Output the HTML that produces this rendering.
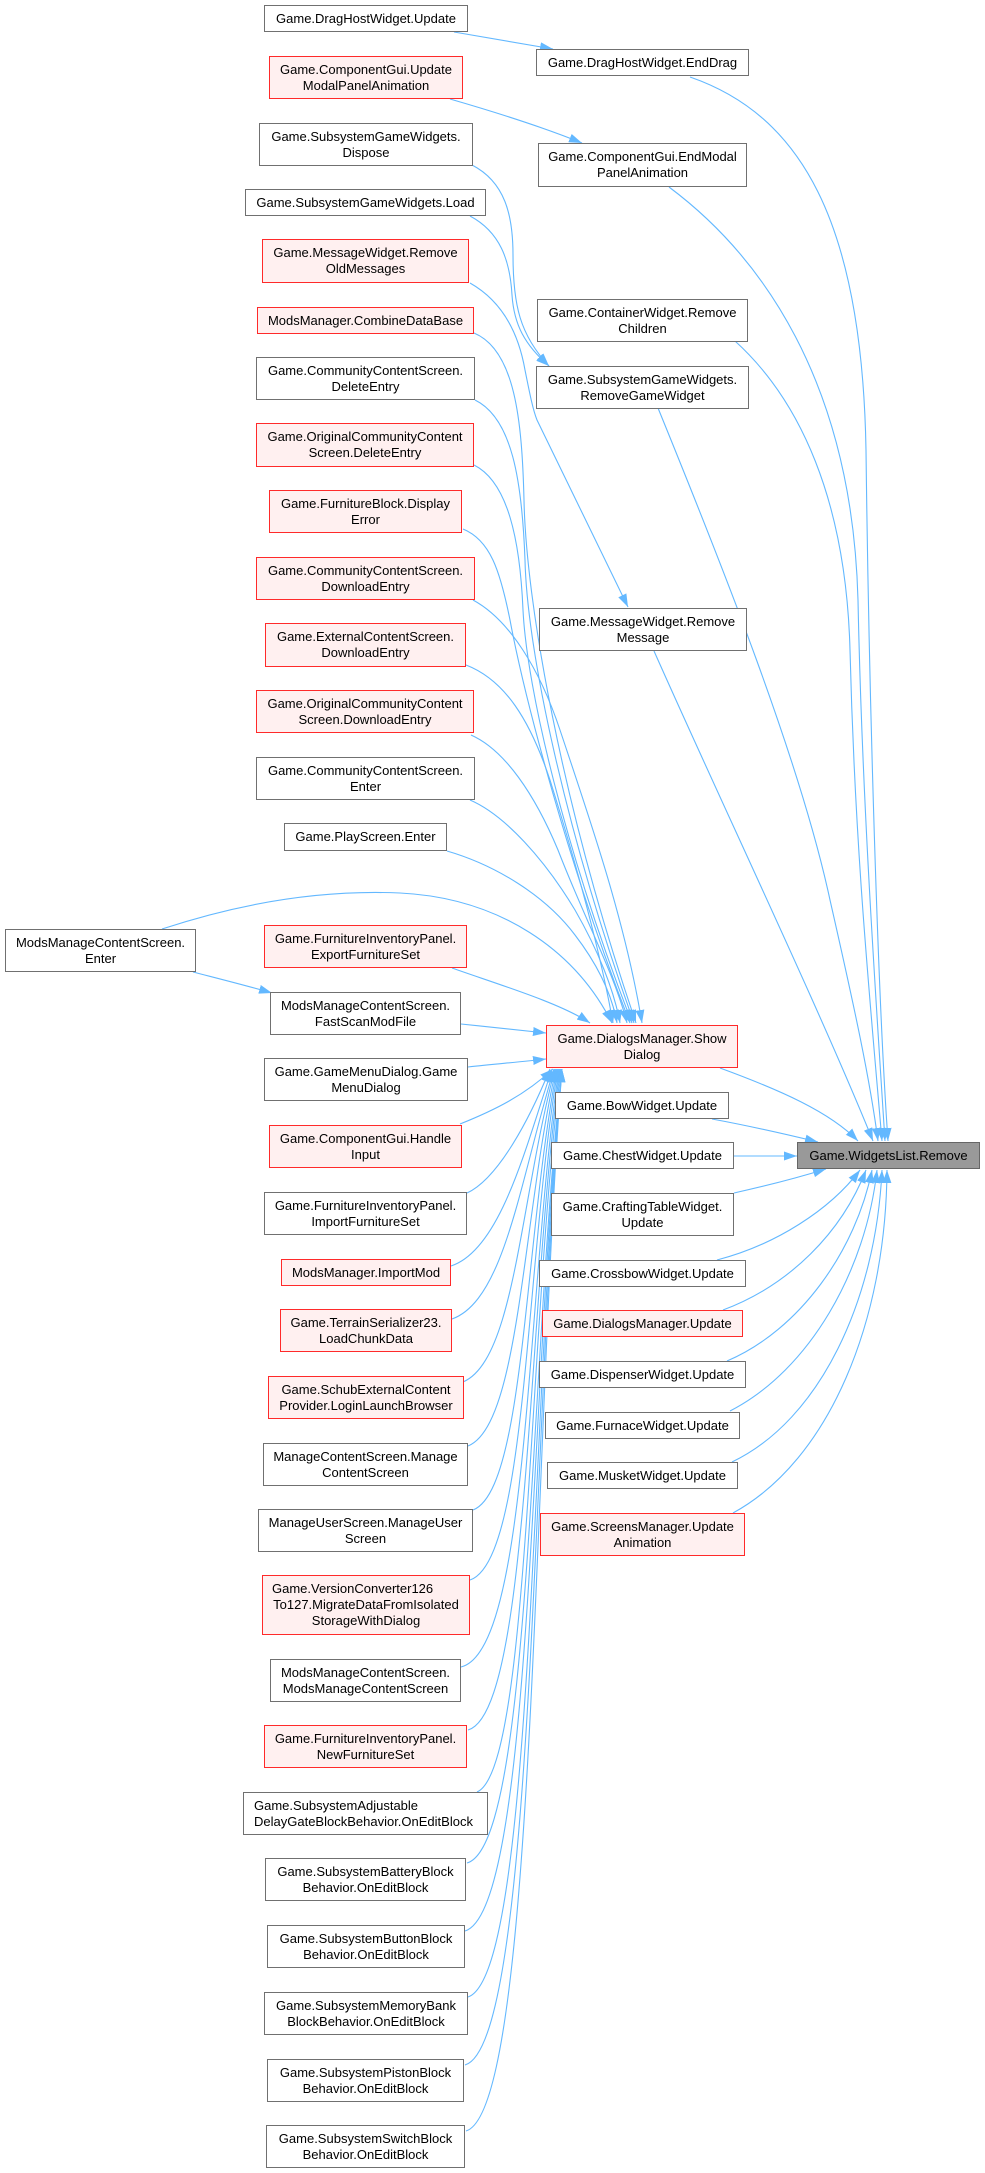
<!DOCTYPE html>
<html>
<head>
<meta charset="utf-8">
<style>
html,body{margin:0;padding:0;background:#fff;}
body{width:985px;height:2173px;position:relative;overflow:hidden;}
svg{position:absolute;left:0;top:0;}
.n{position:absolute;box-sizing:border-box;border:1px solid #707070;background:#fff;display:flex;flex-direction:column;justify-content:center;align-items:center;font:13px/16px "Liberation Sans",Arial,sans-serif;color:#000;white-space:nowrap;}
.r{border-color:#ff2a2a;background:#fff0f0;}
.m{background:#999;border-color:#666;}
.l{align-items:flex-start;padding-left:10px;}
.s{align-items:stretch;}
.s div{text-align:center;}
.s div.la{text-align:left;padding-left:9px;}
</style>
</head>
<body>
<svg width="985" height="2173" viewBox="0 0 985 2173" xmlns="http://www.w3.org/2000/svg">
<defs>
<marker id="a" markerWidth="13" markerHeight="9" refX="13" refY="4.5" orient="auto" markerUnits="userSpaceOnUse">
<path d="M0,0 L13,4.5 L0,9 z" fill="#63b8ff"/>
</marker>
</defs>
<g fill="none" stroke="#63b8ff" stroke-width="1.1" marker-end="url(#a)">
<!-- small local edges -->
<path d="M454,32 C490,38 525,44 553,49"/>
<path d="M450,99 C495,112 545,128 582,143"/>
<path d="M472,165 C505,182 513,215 513,255 C513,305 520,335 549,366"/>
<path d="M470,216 C500,232 510,260 512,295 C514,325 525,345 549,366"/>
<path d="M470,283 C500,300 518,330 525,370 C530,395 533,410 537,420 L628,607"/>
<path d="M193,972 C220,979 248,986 272,993"/>
<!-- into ShowDialog from above -->
<path d="M474,333 C515,350 522,420 524,500 C526,600 560,800 636,1023"/>
<path d="M475,400 C512,418 522,480 525,560 C527,650 565,830 634,1023"/>
<path d="M474,465 C508,482 520,540 523,610 C527,690 565,850 632,1023"/>
<path d="M463,529 C490,540 500,570 510,620 C525,700 570,870 630,1023"/>
<path d="M473,600 C510,620 540,670 560,730 C590,820 625,920 642,1023"/>
<path d="M466,665 C505,680 530,720 550,780 C575,860 600,950 613,1023"/>
<path d="M471,735 C505,750 535,795 558,850 C585,920 615,975 627,1023"/>
<path d="M470,800 C505,815 545,860 575,910 C598,950 614,990 620,1023"/>
<path d="M447,851 C495,865 545,895 575,935 C598,965 612,995 617,1023"/>
<path d="M162,929 C250,900 330,890 400,893 C500,898 575,950 612,1023"/>
<path d="M452,968 C500,985 560,1003 590,1023"/>
<path d="M461,1024 C490,1027 520,1030 546,1033"/>
<path d="M468,1067 C495,1064 520,1062 546,1059"/>
<path d="M460,1124 C495,1110 525,1095 553,1069"/>
<!-- into ShowDialog from below -->
<path d="M467,1193 C495,1180 525,1130 550,1069"/>
<path d="M451,1266 C500,1250 525,1150 552,1069"/>
<path d="M452,1319 C505,1300 520,1180 554,1069"/>
<path d="M463,1382 C515,1360 520,1200 555,1069"/>
<path d="M468,1446 C520,1425 522,1220 556,1069"/>
<path d="M473,1510 C525,1490 524,1240 557,1069"/>
<path d="M470,1580 C528,1560 525,1260 558,1069"/>
<path d="M461,1667 C530,1650 526,1290 559,1069"/>
<path d="M468,1730 C530,1712 527,1310 560,1069"/>
<path d="M477,1792 C530,1770 528,1330 561,1069"/>
<path d="M467,1863 C532,1845 529,1360 562,1069"/>
<path d="M465,1931 C533,1910 530,1380 562,1069"/>
<path d="M468,1997 C534,1975 531,1400 562,1069"/>
<path d="M465,2065 C535,2045 532,1420 562,1069"/>
<path d="M466,2131 C536,2110 533,1440 562,1069"/>
<!-- into WidgetsList.Remove -->
<path d="M690,77 C800,115 862,220 866,450 C869,700 878,1000 888,1141"/>
<path d="M669,187 C760,255 852,380 858,600 C862,800 876,1000 885,1141"/>
<path d="M735,341 C800,400 846,500 850,650 C855,850 870,1000 882,1141"/>
<path d="M658,408 C720,560 800,760 830,900 C855,1010 870,1080 878,1141"/>
<path d="M654,651 C720,800 820,1010 873,1141"/>
<path d="M720,1068 C780,1090 830,1112 858,1141"/>
<path d="M712,1119 C750,1126 785,1134 818,1142"/>
<path d="M734,1156 L797,1156"/>
<path d="M734,1193 C770,1185 800,1177 826,1169"/>
<path d="M717,1260 C775,1245 830,1210 860,1170"/>
<path d="M723,1310 C790,1285 842,1232 866,1170"/>
<path d="M727,1361 C800,1330 856,1250 872,1170"/>
<path d="M730,1411 C810,1370 866,1270 877,1170"/>
<path d="M732,1462 C820,1420 876,1300 882,1170"/>
<path d="M733,1513 C830,1460 886,1320 887,1170"/>
</g>
</svg>

<!-- left column -->
<div class="n" style="left:264px;top:5px;width:204px;height:27px;">Game.DragHostWidget.Update</div>
<div class="n r" style="left:269px;top:56px;width:194px;height:43px;"><div>Game.ComponentGui.Update</div><div>ModalPanelAnimation</div></div>
<div class="n" style="left:259px;top:123px;width:214px;height:43px;"><div>Game.SubsystemGameWidgets.</div><div>Dispose</div></div>
<div class="n" style="left:245px;top:189px;width:241px;height:27px;">Game.SubsystemGameWidgets.Load</div>
<div class="n r" style="left:262px;top:239px;width:207px;height:44px;"><div>Game.MessageWidget.Remove</div><div>OldMessages</div></div>
<div class="n r" style="left:257px;top:307px;width:217px;height:27px;">ModsManager.CombineDataBase</div>
<div class="n" style="left:256px;top:357px;width:219px;height:43px;"><div>Game.CommunityContentScreen.</div><div>DeleteEntry</div></div>
<div class="n r" style="left:256px;top:423px;width:218px;height:44px;"><div>Game.OriginalCommunityContent</div><div>Screen.DeleteEntry</div></div>
<div class="n r" style="left:269px;top:490px;width:193px;height:43px;"><div>Game.FurnitureBlock.Display</div><div>Error</div></div>
<div class="n r" style="left:256px;top:557px;width:219px;height:43px;"><div>Game.CommunityContentScreen.</div><div>DownloadEntry</div></div>
<div class="n r" style="left:265px;top:623px;width:201px;height:44px;"><div>Game.ExternalContentScreen.</div><div>DownloadEntry</div></div>
<div class="n r" style="left:256px;top:690px;width:218px;height:43px;"><div>Game.OriginalCommunityContent</div><div>Screen.DownloadEntry</div></div>
<div class="n" style="left:256px;top:757px;width:219px;height:43px;"><div>Game.CommunityContentScreen.</div><div>Enter</div></div>
<div class="n" style="left:284px;top:823px;width:163px;height:28px;">Game.PlayScreen.Enter</div>
<div class="n" style="left:5px;top:929px;width:191px;height:43px;"><div>ModsManageContentScreen.</div><div>Enter</div></div>
<div class="n r" style="left:264px;top:925px;width:203px;height:43px;"><div>Game.FurnitureInventoryPanel.</div><div>ExportFurnitureSet</div></div>
<div class="n" style="left:270px;top:992px;width:191px;height:43px;"><div>ModsManageContentScreen.</div><div>FastScanModFile</div></div>
<div class="n" style="left:264px;top:1058px;width:204px;height:43px;"><div>Game.GameMenuDialog.Game</div><div>MenuDialog</div></div>
<div class="n r" style="left:269px;top:1125px;width:193px;height:43px;"><div>Game.ComponentGui.Handle</div><div>Input</div></div>
<div class="n" style="left:264px;top:1192px;width:203px;height:43px;"><div>Game.FurnitureInventoryPanel.</div><div>ImportFurnitureSet</div></div>
<div class="n r" style="left:281px;top:1259px;width:170px;height:27px;">ModsManager.ImportMod</div>
<div class="n r" style="left:280px;top:1309px;width:172px;height:43px;"><div>Game.TerrainSerializer23.</div><div>LoadChunkData</div></div>
<div class="n r" style="left:268px;top:1376px;width:196px;height:43px;"><div>Game.SchubExternalContent</div><div>Provider.LoginLaunchBrowser</div></div>
<div class="n" style="left:263px;top:1443px;width:205px;height:43px;"><div>ManageContentScreen.Manage</div><div>ContentScreen</div></div>
<div class="n" style="left:258px;top:1509px;width:215px;height:43px;"><div>ManageUserScreen.ManageUser</div><div>Screen</div></div>
<div class="n r s" style="left:262px;top:1575px;width:208px;height:60px;"><div class="la">Game.VersionConverter126</div><div>To127.MigrateDataFromIsolated</div><div>StorageWithDialog</div></div>
<div class="n" style="left:270px;top:1659px;width:191px;height:43px;"><div>ModsManageContentScreen.</div><div>ModsManageContentScreen</div></div>
<div class="n r" style="left:264px;top:1725px;width:203px;height:43px;"><div>Game.FurnitureInventoryPanel.</div><div>NewFurnitureSet</div></div>
<div class="n l" style="left:243px;top:1792px;width:245px;height:43px;"><div>Game.SubsystemAdjustable</div><div>DelayGateBlockBehavior.OnEditBlock</div></div>
<div class="n" style="left:265px;top:1858px;width:201px;height:43px;"><div>Game.SubsystemBatteryBlock</div><div>Behavior.OnEditBlock</div></div>
<div class="n" style="left:267px;top:1925px;width:198px;height:43px;"><div>Game.SubsystemButtonBlock</div><div>Behavior.OnEditBlock</div></div>
<div class="n" style="left:264px;top:1992px;width:204px;height:43px;"><div>Game.SubsystemMemoryBank</div><div>BlockBehavior.OnEditBlock</div></div>
<div class="n" style="left:267px;top:2059px;width:197px;height:43px;"><div>Game.SubsystemPistonBlock</div><div>Behavior.OnEditBlock</div></div>
<div class="n" style="left:266px;top:2125px;width:199px;height:43px;"><div>Game.SubsystemSwitchBlock</div><div>Behavior.OnEditBlock</div></div>

<!-- middle column -->
<div class="n" style="left:536px;top:49px;width:213px;height:27px;">Game.DragHostWidget.EndDrag</div>
<div class="n" style="left:538px;top:143px;width:209px;height:44px;"><div>Game.ComponentGui.EndModal</div><div>PanelAnimation</div></div>
<div class="n" style="left:537px;top:299px;width:211px;height:43px;"><div>Game.ContainerWidget.Remove</div><div>Children</div></div>
<div class="n" style="left:536px;top:366px;width:213px;height:43px;"><div>Game.SubsystemGameWidgets.</div><div>RemoveGameWidget</div></div>
<div class="n" style="left:539px;top:608px;width:208px;height:43px;"><div>Game.MessageWidget.Remove</div><div>Message</div></div>
<div class="n r" style="left:546px;top:1025px;width:192px;height:43px;"><div>Game.DialogsManager.Show</div><div>Dialog</div></div>
<div class="n" style="left:555px;top:1092px;width:174px;height:27px;">Game.BowWidget.Update</div>
<div class="n" style="left:551px;top:1142px;width:183px;height:27px;">Game.ChestWidget.Update</div>
<div class="n" style="left:551px;top:1193px;width:183px;height:43px;"><div>Game.CraftingTableWidget.</div><div>Update</div></div>
<div class="n" style="left:539px;top:1260px;width:207px;height:27px;">Game.CrossbowWidget.Update</div>
<div class="n r" style="left:542px;top:1310px;width:201px;height:27px;">Game.DialogsManager.Update</div>
<div class="n" style="left:539px;top:1361px;width:207px;height:27px;">Game.DispenserWidget.Update</div>
<div class="n" style="left:545px;top:1412px;width:195px;height:27px;">Game.FurnaceWidget.Update</div>
<div class="n" style="left:547px;top:1462px;width:191px;height:27px;">Game.MusketWidget.Update</div>
<div class="n r" style="left:540px;top:1513px;width:205px;height:43px;"><div>Game.ScreensManager.Update</div><div>Animation</div></div>

<!-- main node -->
<div class="n m" style="left:797px;top:1142px;width:183px;height:27px;">Game.WidgetsList.Remove</div>
</body>
</html>
